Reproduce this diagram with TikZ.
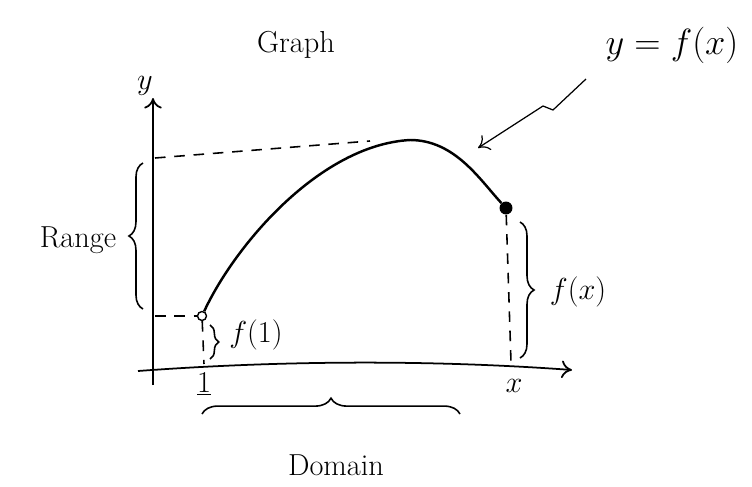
\documentclass[tikz,border=0pt]{standalone}
\usepackage{tikz}
\usetikzlibrary{arrows.meta, decorations.pathreplacing, positioning}

\begin{document}
\begin{tikzpicture}[
    x=0.02cm, y=-0.02cm,
    label_text/.style={font=\LARGE},
    axis_line/.style={line width=1pt, -{To[length=6pt, width=10pt]}},
    guide/.style={dash pattern=on 6pt off 5pt, line width=0.9pt},
    curly/.style={decorate, decoration={brace, amplitude=#1}, line width=0.9pt},
    graph_line/.style={line width=1.4pt},
    pointer/.style={line width=0.7pt, -{To[length=6pt, width=10pt]}}
]
\useasboundingbox (0,0) rectangle (752,487);

% AXES
\coordinate (y_bot) at (153,385);
\coordinate (y_top) at (153,98);
\coordinate (x_left) at (138,371);
\coordinate (x_right) at (572,370);
\draw[axis_line] (y_bot) -- (y_top);
\draw[axis_line] (x_left) .. controls (300,359) and (450,361) .. (x_right);
\node[label_text] (ylab) at (145,86) {$y$};
\node[label_text] (title) at (296,45) {Graph};

% CURVE
\node[circle, draw, fill=white, line width=0.8pt, inner sep=1.8pt] (start) at (202,316) {};
\coordinate (peak) at (410,140);
\node[circle, fill=black, inner sep=2.6pt] (stop) at (506,208) {};
\draw[graph_line] (start) .. controls (235,245) and (320,145) .. (peak)
                          .. controls (455,140) and (480,180) .. (stop);

% GUIDE LINES
\coordinate (rng_top) at (155,158);
\coordinate (rng_bot) at (155,316);
\coordinate (one_foot) at (204,364);
\coordinate (x_foot) at (511,362);
\draw[guide] (rng_top) -- (370,141);
\draw[guide] (rng_bot) -- (start);
\draw[guide] (start) -- (one_foot);
\draw[guide] (stop) -- (x_foot);

% BRACES
\draw[curly=8pt] (143,309) -- (143,163);
\node[label_text] (range) at (78,240) {Range};
\draw[curly=5pt] (210,325) -- (210,359);
\node[label_text] (f_one) at (256,335) {$f(1)$};
\draw[curly=8pt] (520,222) -- (520,358);
\node[label_text] (f_x) at (578,292) {$f(x)$};
\draw[curly=9pt] (202,414) -- (460,414);
\node[label_text] (domain) at (336,465) {Domain};

% TICK LABELS
\node[label_text] (one) at (204,384) {$\underline{1}$};
\node[label_text] (xlab) at (514,386) {$x$};

% FUNCTION LABEL
\node[font=\huge] (eqn) at (672,45) {$y = f(x)$};
\coordinate (bend_a) at (553,110);
\coordinate (bend_b) at (543,106);
\draw[pointer] (586,79) -- (bend_a) -- (bend_b) -- (478,148);

\end{tikzpicture}
\end{document}
